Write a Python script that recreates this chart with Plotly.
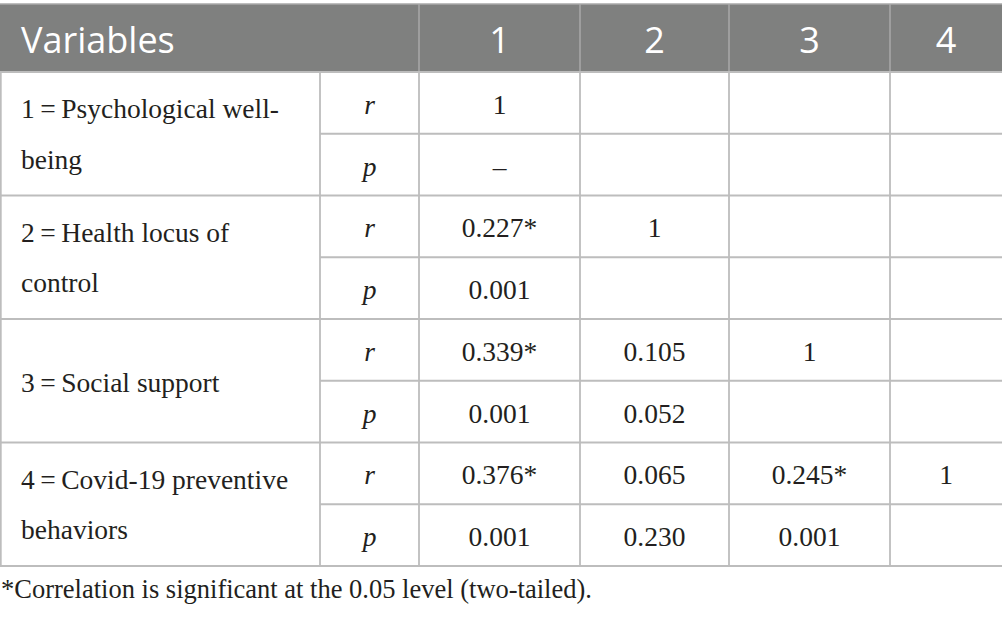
import plotly.graph_objects as go

# Korrelatsioonitabel: muutujad, r- ja p-väärtused
header_labels = ["Variables", "1", "2", "3", "4"]
variable_lines = [
    ["1\u2009=\u2009Psychological well-", "being"],
    ["2\u2009=\u2009Health locus of", "control"],
    ["3\u2009=\u2009Social support"],
    ["4\u2009=\u2009Covid-19 preventive", "behaviors"],
]
stat_labels = ["r", "p"]
r_values = [
    ["1"],
    ["0.227*", "1"],
    ["0.339*", "0.105", "1"],
    ["0.376*", "0.065", "0.245*", "1"],
]
p_values = [
    ["\u2013"],
    ["0.001"],
    ["0.001", "0.052"],
    ["0.001", "0.230", "0.001"],
]
footnote = "*Correlation is significant at the 0.05 level (two-tailed)."

# Paigutus (pikslites)
W, H = 1002, 620
col_edges = [0, 320, 419, 580, 729, 890, 1002]
header_top, header_bot = 4, 72
row_h = 61.75
row_edges = [header_bot + i * row_h for i in range(2 * len(variable_lines) + 1)]
text_dy = 4  # teksti nihutus allapoole lahtri keskelt
pad_x = 21

grid = "#bdbdbd"
head_line = "#a9a9a9"
head_bg = "#7f807f"
ink = "#231f20"
serif = "Liberation Serif"
sans = "Open Sans"
body_size = 27.5

shapes = []
# päise taust
shapes.append(dict(type="rect", x0=0, x1=W, y0=header_top, y1=header_bot,
                   fillcolor=head_bg, line_width=0, layer="below"))
shapes.append(dict(type="line", x0=0, x1=W, y0=header_top, y1=header_top,
                   line=dict(color=head_line, width=1.5)))
for x in col_edges[2:-1]:
    shapes.append(dict(type="line", x0=x, x1=x, y0=header_top, y1=header_bot,
                       line=dict(color=head_line, width=1.5)))

# horisontaalsed jooned
for k, y in enumerate(row_edges):
    x0 = 0 if k % 2 == 0 else col_edges[1]
    shapes.append(dict(type="line", x0=x0, x1=W, y0=y, y1=y,
                       line=dict(color=grid, width=1.8)))
# vertikaalsed jooned
for x in [0.8] + col_edges[1:-1]:
    shapes.append(dict(type="line", x0=x, x1=x, y0=header_bot, y1=row_edges[-1],
                       line=dict(color=grid, width=1.8)))

fig = go.Figure()

# päise tekstid
head_y = 44
fig.add_trace(go.Scatter(
    x=[pad_x], y=[head_y], mode="text",
    text=[header_labels[0]], textposition="middle right",
    textfont=dict(family=sans, size=36, color="white"), hoverinfo="skip"))
fig.add_trace(go.Scatter(
    x=[(col_edges[2 + j] + col_edges[3 + j]) / 2 for j in range(4)],
    y=[head_y] * 4, mode="text",
    text=header_labels[1:], textposition="middle center",
    textfont=dict(family=sans, size=36, color="white"), hoverinfo="skip"))

# muutujate nimed (kaks rida grupi keskme ümber)
lx, ly, lt = [], [], []
for i, lines in enumerate(variable_lines):
    gc = row_edges[2 * i + 1]
    if len(lines) == 1:
        lx.append(pad_x); ly.append(gc + text_dy); lt.append(lines[0])
    else:
        lx += [pad_x, pad_x]
        ly += [gc - 22.5, gc + 28]
        lt += lines
fig.add_trace(go.Scatter(
    x=lx, y=ly, mode="text", text=lt, textposition="middle right",
    textfont=dict(family=serif, size=body_size, color=ink), hoverinfo="skip"))

# r / p sildid ja väärtused
sx, sy, st = [], [], []
vx, vy, vt = [], [], []
for i in range(len(variable_lines)):
    yr = (row_edges[2 * i] + row_edges[2 * i + 1]) / 2 + text_dy
    yp = (row_edges[2 * i + 1] + row_edges[2 * i + 2]) / 2 + text_dy
    xs = (col_edges[1] + col_edges[2]) / 2
    sx += [xs, xs]
    sy += [yr, yp]
    st += ["<i>%s</i>" % s for s in stat_labels]
    for j, v in enumerate(r_values[i]):
        vx.append((col_edges[2 + j] + col_edges[3 + j]) / 2); vy.append(yr); vt.append(v)
    for j, v in enumerate(p_values[i]):
        vx.append((col_edges[2 + j] + col_edges[3 + j]) / 2); vy.append(yp); vt.append(v)
fig.add_trace(go.Scatter(
    x=sx, y=sy, mode="text", text=st, textposition="middle center",
    textfont=dict(family=serif, size=body_size, color=ink), hoverinfo="skip"))
fig.add_trace(go.Scatter(
    x=vx, y=vy, mode="text", text=vt, textposition="middle center",
    textfont=dict(family=serif, size=body_size, color=ink), hoverinfo="skip"))

# allmärkus
fig.add_trace(go.Scatter(
    x=[1], y=[591], mode="text", text=[footnote], textposition="middle right",
    textfont=dict(family=serif, size=26.5, color=ink), hoverinfo="skip"))

fig.update_layout(
    width=W, height=H, margin=dict(l=0, r=0, t=0, b=0),
    paper_bgcolor="white", plot_bgcolor="white", showlegend=False,
    shapes=shapes,
    xaxis=dict(range=[0, W], visible=False, fixedrange=True),
    yaxis=dict(range=[H, 0], visible=False, fixedrange=True),
)

fig.write_html(
    "out.html",
    config={"displayModeBar": False},
    post_script="document.body.style.margin='0';document.body.style.overflow='hidden';",
)
